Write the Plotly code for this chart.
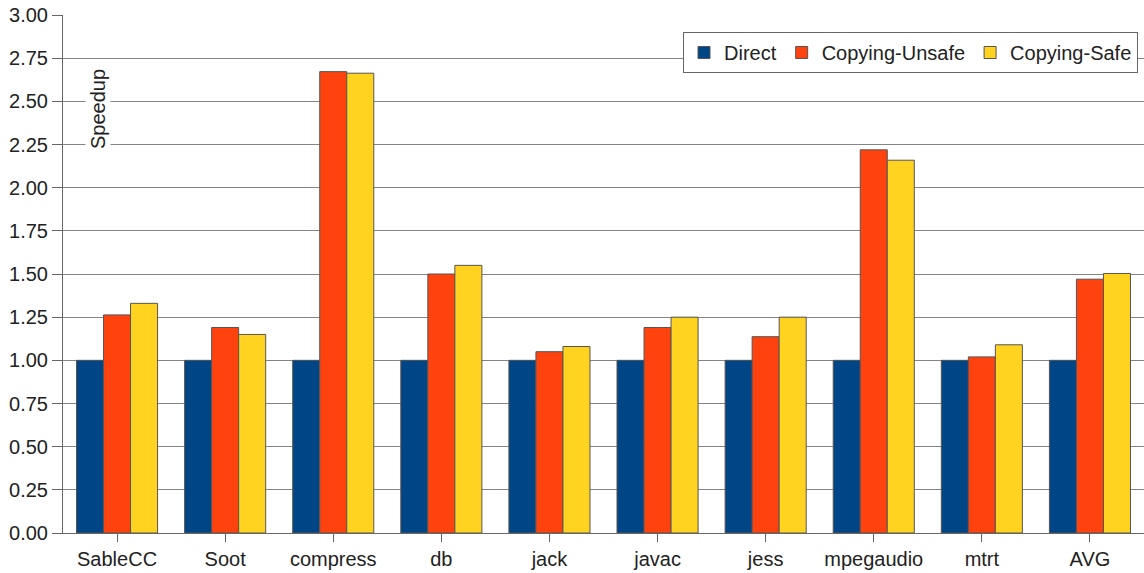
import plotly.graph_objects as go

categories = ["SableCC", "Soot", "compress", "db", "jack", "javac", "jess", "mpegaudio", "mtrt", "AVG"]
direct = [1.00, 1.00, 1.00, 1.00, 1.00, 1.00, 1.00, 1.00, 1.00, 1.00]
copying_unsafe = [1.263, 1.19, 2.672, 1.50, 1.05, 1.19, 1.137, 2.219, 1.02, 1.47]
copying_safe = [1.33, 1.15, 2.663, 1.55, 1.08, 1.25, 1.25, 2.159, 1.09, 1.503]
y_ticks = [0, 0.25, 0.5, 0.75, 1.0, 1.25, 1.5, 1.75, 2.0, 2.25, 2.5, 2.75, 3.0]

series = [
    ("Direct", direct, "#004586"),
    ("Copying-Unsafe", copying_unsafe, "#ff420e"),
    ("Copying-Safe", copying_safe, "#ffd320"),
]

L, R, T, B = 63, 0, 15, 40
W, H = 1144, 573
pw, ph = W - L - R, H - T - B

fig = go.Figure()
for name, vals, color in series:
    fig.add_trace(go.Bar(
        x=categories, y=vals, name=name,
        marker=dict(color=color, line=dict(color="#555555", width=1)),
    ))

fig.update_layout(
    width=W, height=H,
    margin=dict(l=L, r=R, t=T, b=B),
    paper_bgcolor="white", plot_bgcolor="white",
    barmode="group", bargap=0.25, bargroupgap=0,
    font=dict(family="Liberation Sans, Arial, sans-serif", size=20, color="#222222"),
    showlegend=True,
    legend=dict(
        orientation="h", x=(1138 - L) / pw, xanchor="right", y=(533 - 32) / ph, yanchor="top",
        bordercolor="#666666", borderwidth=1, bgcolor="white",
        font=dict(size=20), itemwidth=30, traceorder="normal",
    ),
    xaxis=dict(
        showline=True, linecolor="#666666", linewidth=1,
        ticks="outside", ticklen=8, tickcolor="#666666",
        showgrid=False,
    ),
    yaxis=dict(
        range=[0, 3], tickvals=y_ticks, tickformat=".2f",
        showline=True, linecolor="#666666", linewidth=1,
        ticks="outside", ticklen=10, tickcolor="#666666",
        showgrid=True, gridcolor="#858585", gridwidth=1,
        zeroline=False,
    ),
    annotations=[dict(
        text="Speedup", textangle=-90, xref="paper", yref="paper",
        x=(98 - L) / pw, y=(533 - 109) / ph, xanchor="center", yanchor="middle",
        showarrow=False, bgcolor="white", font=dict(size=20),
    )],
)

fig.write_html("out.html")
